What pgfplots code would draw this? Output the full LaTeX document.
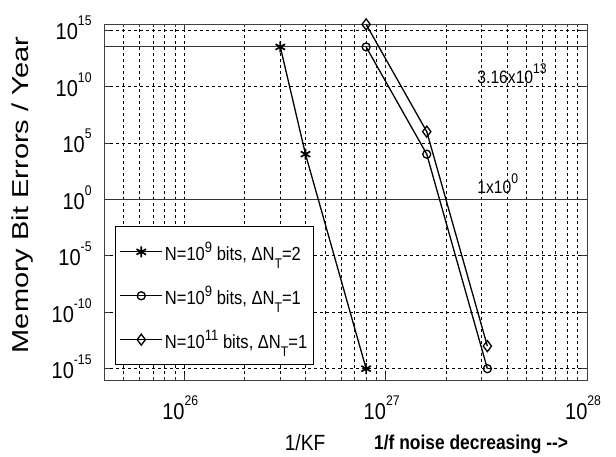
\documentclass[border=0pt]{standalone}
\usepackage{fontspec}
\setmainfont{Liberation Sans}[FakeStretch=0.87]
\usepackage{graphicx}
\usepackage{pgfplots}
\pgfplotsset{compat=1.18}
\newcommand\sx[3]{\raisebox{#1}{\fontsize{#2}{#2}\selectfont #3}}
\newcommand\tk[1]{10\smash{\sx{14pt}{14}{#1}}}
\newcommand\lgx[1]{10\sx{8pt}{15}{#1}}
\newcommand\subT[1]{\raisebox{-8pt}{\fontsize{14}{14}\selectfont #1}}
\begin{document}
\begin{tikzpicture}[x=1pt,y=1pt]
\useasboundingbox (0,0) rectangle (616,456);
\begin{axis}[
  at={(104pt,76pt)}, anchor=south west,
  width=483pt, height=356pt, scale only axis,
  xmode=log, ymode=log,
  xmin=4e25, xmax=1e28, ymin=1e-16, ymax=3.4e15,
  xtick={1e26,1e27,1e28},
  xticklabels={\tk{26},\tk{27},\tk{28}},
  minor xtick={5e25,6e25,7e25,8e25,9e25,2e26,3e26,4e26,5e26,6e26,7e26,8e26,9e26,2e27,3e27,4e27,5e27,6e27,7e27,8e27,9e27},
  ytick={1e-15,1e-10,1e-5,1,1e5,1e10,1e15},
  yticklabels={\tk{-15},\tk{-10},\tk{-5},\tk{0},\tk{5},\tk{10},\tk{15}},
  xmajorgrids=true, xminorgrids=true, ymajorgrids=true, yminorgrids=false,
  minor y tick style={draw=none},
  major grid style={black, dash pattern=on 3pt off 3pt, line width=0.8pt},
  minor grid style={black, dash pattern=on 3pt off 3pt, line width=0.8pt},
  tick align=inside, major tick length=6pt, minor tick length=3pt,
  tick style={black!80, line width=0.8pt},
  ticklabel style={font=\fontsize{23}{26}\selectfont},
  xticklabel style={yshift=-20pt, xshift=-4pt},
  yticklabel style={xshift=-9pt, yshift=-2pt},
  axis line style={line width=1pt, black!75},
  clip=false,
  legend cell align=left,
  legend style={at={(rel axis cs:0.023,0.042)}, anchor=south west,
    draw=black, line width=0.9pt, font=\fontsize{19}{22}\selectfont,
    row sep=20pt, inner xsep=4pt, inner ysep=13pt},
  legend image code/.code={\draw[mark repeat=2,mark phase=2] plot coordinates {(0pt,0pt) (21pt,0pt) (42pt,0pt)};},
]
\addplot[black!80, line width=1pt, forget plot] coordinates {(4e25,3.16e13) (1e28,3.16e13)};
\addplot[black!80, line width=1pt, forget plot] coordinates {(4e25,1) (1e28,1)};
\addplot[black, line width=1.3pt, mark=asterisk, mark size=5.5pt, mark options={line width=1.7pt}]
  coordinates {(3e26,3.16e13) (4e26,1e4) (8e26,1e-15)};
\addlegendentry{N=\lgx{9} bits, ΔN\subT{T}=2}
\addplot[black, line width=1.3pt, mark=o, mark size=4pt, mark options={line width=1.3pt}]
  coordinates {(8e26,3.16e13) (1.6e27,1e4) (3.2e27,1e-15)};
\addlegendentry{N=\lgx{9} bits, ΔN\subT{T}=1}
\addplot[black, line width=1.3pt, mark=diamond, mark size=5.5pt, mark options={line width=1.3pt}]
  coordinates {(8e26,3.16e15) (1.6e27,1e6) (3.2e27,1e-13)};
\addlegendentry{N=\lgx{11} bits, ΔN\subT{T}=1}
\node[anchor=base west, inner sep=0pt, font=\fontsize{18}{22}\selectfont] at (axis cs:2.85e27,2e10) {3.16x10\sx{10pt}{14}{13}};
\node[anchor=base west, inner sep=0pt, font=\fontsize{18}{22}\selectfont] at (axis cs:2.85e27,3.5) {1x10\sx{10pt}{14}{0}};
\end{axis}
\node[rotate=90, inner sep=0pt, font=\fontsize{23}{26}\selectfont] at (23,261) {\scalebox{1.45}[1]{Memory Bit Errors / Year}};
\node[inner sep=0pt, font=\fontsize{22}{24}\selectfont] at (305,13) {1/KF};
\node[anchor=west, inner sep=0pt, font=\bfseries\fontsize{20}{22}\selectfont] at (374,12) {1/f noise decreasing -{}->};
\end{tikzpicture}
\end{document}
